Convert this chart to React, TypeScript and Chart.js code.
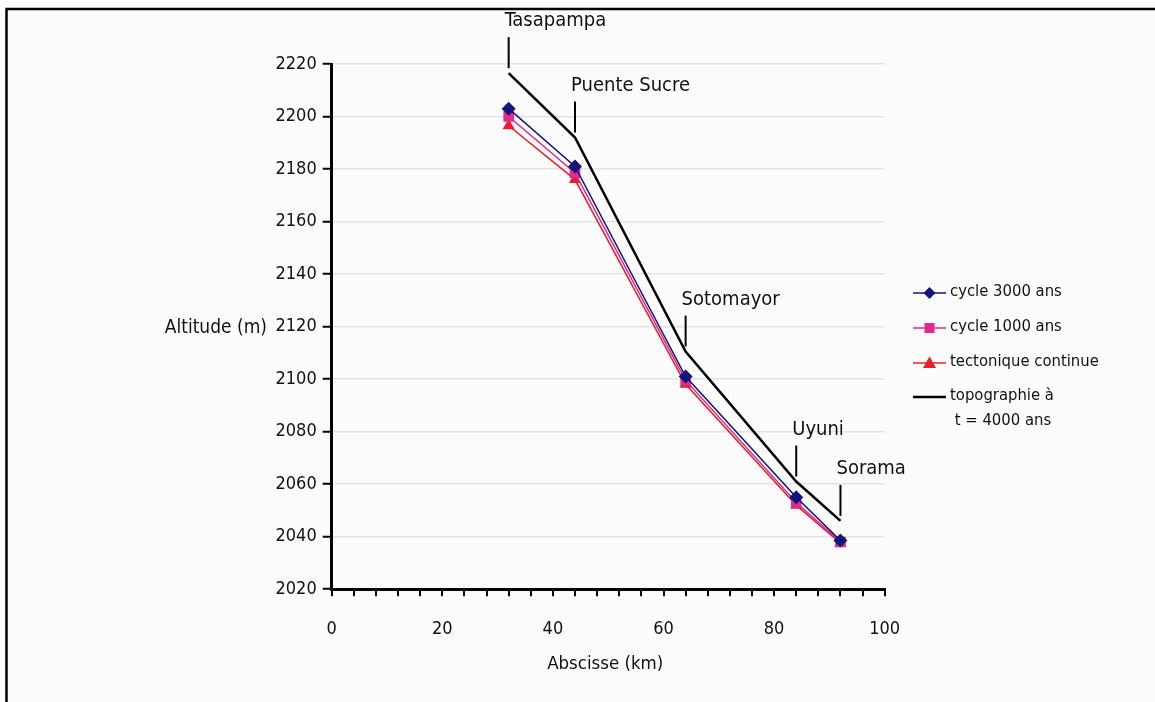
import React, { useEffect, useRef } from "react";
import { Chart, registerables } from "chart.js";

Chart.register(...registerables);

const FONT = '"DejaVu Sans Condensed", "DejaVu Sans", sans-serif';
const FS = 18;

// ---- data ----
const abscisses = [32, 44, 64, 84, 92];
const sites = ["Tasapampa", "Puente Sucre", "Sotomayor", "Uyuni", "Sorama"];
const cycle3000 = [2203, 2181, 2101, 2055, 2038.5];
const cycle1000 = [2200, 2178.5, 2099.5, 2053, 2038];
const tectonique = [2196.5, 2176, 2098, 2052, 2037.5];
const topographie = [2216.5, 2192, 2110.5, 2061, 2046];
const seriesNames = ["cycle 3000 ans", "cycle 1000 ans", "tectonique continue", "topographie à", " t = 4000 ans"];
const xTitle = "Abscisse (km)";
const yTitle = "Altitude (m)";
const xRange = [0, 100];
const yRange = [2020, 2220];

const toPts = (ys: number[]) => abscisses.map((x, i) => ({ x, y: ys[i] }));

const NAVY = "#14147f";
const PINK = "#e02a8c";
const RED = "#ec1c28";
const BLACK = "#000000";
const TEXT = "#111111";

function drawMarker(ctx: CanvasRenderingContext2D, style: string, x: number, y: number, r: number, color: string) {
  ctx.save();
  ctx.fillStyle = color;
  ctx.beginPath();
  if (style === "diamond") {
    ctx.moveTo(x, y - r);
    ctx.lineTo(x + r, y);
    ctx.lineTo(x, y + r);
    ctx.lineTo(x - r, y);
  } else if (style === "square") {
    ctx.rect(x - r, y - r, 2 * r, 2 * r);
  } else if (style === "triangle") {
    ctx.moveTo(x, y - r);
    ctx.lineTo(x + r, y + r * 0.75);
    ctx.lineTo(x - r, y + r * 0.75);
  }
  ctx.closePath();
  ctx.fill();
  ctx.restore();
}

const decorPlugin = {
  id: "decor",
  beforeDraw(chart: any) {
    const ctx = chart.ctx as CanvasRenderingContext2D;
    ctx.save();
    ctx.fillStyle = "#ffffff";
    ctx.fillRect(0, 0, chart.width, chart.height);
    ctx.fillStyle = "#fcfcfc";
    ctx.fillRect(6, 8, chart.width, chart.height);
    ctx.restore();
  },
  afterDraw(chart: any) {
    const ctx = chart.ctx as CanvasRenderingContext2D;
    const ca = chart.chartArea;
    const xs = chart.scales.x;
    const ys = chart.scales.y;
    ctx.save();
    // frame
    ctx.strokeStyle = "#000";
    ctx.lineWidth = 2.5;
    ctx.beginPath();
    ctx.moveTo(6.5, chart.height);
    ctx.lineTo(6.5, 9);
    ctx.lineTo(chart.width, 9);
    ctx.stroke();

    ctx.fillStyle = TEXT;
    // axis titles
    ctx.textBaseline = "middle";
    ctx.textAlign = "right";
    ctx.font = `19px ${FONT}`;
    ctx.fillText(yTitle, 267, (ca.top + ca.bottom) / 2 + 1);
    ctx.textAlign = "center";
    ctx.font = `18.5px ${FONT}`;
    ctx.fillText(xTitle, (ca.left + ca.right) / 2 - 3, 664);

    // site annotations
    ctx.font = `20px ${FONT}`;
    ctx.strokeStyle = "#000";
    ctx.lineWidth = 2;
    sites.forEach((s, i) => {
      const px = xs.getPixelForValue(abscisses[i]);
      const py = ys.getPixelForValue(topographie[i]);
      ctx.beginPath();
      ctx.moveTo(px, py - 5);
      ctx.lineTo(px, py - 36);
      ctx.stroke();
      ctx.textAlign = "left";
      ctx.fillText(s, px - 4, py - 52);
    });

    // legend
    ctx.font = `16.5px ${FONT}`;
    const lx = 913;
    const len = 33;
    const rows = [293, 328, 363, 397];
    const styles = [
      { c: NAVY, m: "diamond", r: 6, w: 1.5 },
      { c: PINK, m: "square", r: 5, w: 1.5 },
      { c: RED, m: "triangle", r: 6.5, w: 1.5 },
      { c: BLACK, m: "", r: 0, w: 2.5 },
    ];
    styles.forEach((st, i) => {
      const y = rows[i];
      ctx.strokeStyle = st.c;
      ctx.lineWidth = st.w;
      ctx.beginPath();
      ctx.moveTo(lx, y);
      ctx.lineTo(lx + len, y);
      ctx.stroke();
      if (st.m) drawMarker(ctx, st.m, lx + len / 2, y, st.r, st.c);
      ctx.fillStyle = TEXT;
      ctx.textAlign = "left";
      ctx.fillText(seriesNames[i], lx + len + 4, y - 1);
    });
    ctx.fillText(seriesNames[4], lx + len + 4, 421);
    ctx.restore();
  },
};

export default function App() {
  const ref = useRef<HTMLCanvasElement | null>(null);
  useEffect(() => {
    if (!ref.current) return;
    const chart = new Chart(ref.current, {
      type: "line",
      data: {
        datasets: [
          {
            label: seriesNames[0],
            data: toPts(cycle3000),
            borderColor: NAVY,
            backgroundColor: NAVY,
            borderWidth: 1.5,
            pointStyle: "rectRot",
            pointRadius: 7,
            pointBorderWidth: 0,
          },
          {
            label: seriesNames[1],
            data: toPts(cycle1000),
            borderColor: PINK,
            backgroundColor: PINK,
            borderWidth: 1.5,
            pointStyle: "rect",
            pointRadius: 7.5,
            pointBorderWidth: 0,
          },
          {
            label: seriesNames[2],
            data: toPts(tectonique),
            borderColor: RED,
            backgroundColor: RED,
            borderWidth: 1.5,
            pointStyle: "triangle",
            pointRadius: 7,
            pointBorderWidth: 0,
          },
          {
            label: seriesNames[3],
            data: toPts(topographie),
            borderColor: BLACK,
            backgroundColor: BLACK,
            borderWidth: 2.5,
            pointRadius: 0,
          },
        ],
      },
      options: {
        responsive: false,
        animation: false,
        layout: { padding: { left: 0, top: 64, right: 270.3, bottom: 42.8 } },
        plugins: { legend: { display: false }, tooltip: { enabled: false } },
        elements: { line: { tension: 0 } },
        scales: {
          x: {
            type: "linear",
            min: xRange[0],
            max: xRange[1],
            afterFit: (s: any) => {
              s.height = 70;
            },
            border: { display: true, color: "#000", width: 3 },
            grid: {
              display: true,
              drawOnChartArea: false,
              drawTicks: true,
              tickLength: 7,
              color: "#000",
              lineWidth: 2,
            },
            ticks: {
              stepSize: 4,
              autoSkip: false,
              maxRotation: 0,
              padding: 22,
              color: TEXT,
              font: { family: FONT, size: FS },
              callback: (v: any) => (Number(v) % 20 === 0 ? String(v) : ""),
            },
          },
          y: {
            type: "linear",
            min: yRange[0],
            max: yRange[1],
            afterFit: (s: any) => {
              s.width = 331.7;
            },
            border: { display: true, color: "#000", width: 3 },
            grid: {
              display: true,
              drawOnChartArea: true,
              drawTicks: true,
              tickLength: 9,
              color: "#e3e3e3",
              lineWidth: 1.5,
              tickColor: "#000",
              tickWidth: 2,
            },
            ticks: {
              stepSize: 20,
              padding: 6,
              color: TEXT,
              font: { family: FONT, size: FS },
              callback: (v: any) => String(v),
            },
          },
        },
      },
      plugins: [decorPlugin],
    } as any);
    return () => chart.destroy();
  }, []);
  return (
    <div style={{ position: "absolute", left: 0, top: 0, width: 1155, height: 702 }}>
      <canvas ref={ref} width={1155} height={702} style={{ display: "block" }} />
    </div>
  );
}
